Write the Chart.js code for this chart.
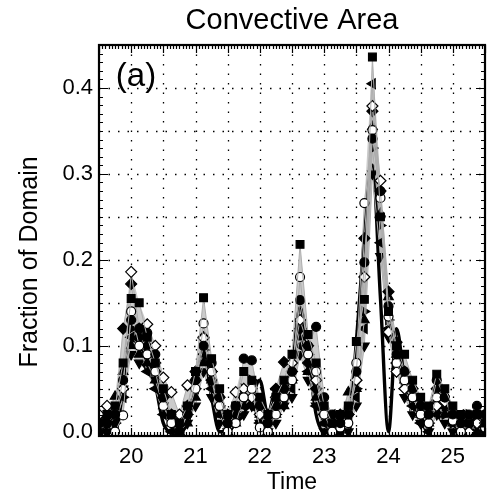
<!DOCTYPE html>
<html>
<head>
<meta charset="utf-8">
<script src="https://cdn.jsdelivr.net/npm/chart.js@4.4.1/dist/chart.umd.min.js"></script>
<style>
  html, body { margin: 0; padding: 0; background: #fff; }
  #wrap { width: 493px; height: 495px; }
</style>
</head>
<body>
<div id="wrap"><canvas id="chart"></canvas></div>
<script>
// time in days, 3-hourly samples
var times = [19.5, 19.625, 19.75, 19.875, 20, 20.125, 20.25, 20.375, 20.5, 20.625,
  20.75, 20.875, 21, 21.125, 21.25, 21.375, 21.5, 21.625, 21.75, 21.875,
  22, 22.125, 22.25, 22.375, 22.5, 22.625, 22.75, 22.875, 23, 23.125,
  23.25, 23.375, 23.5, 23.625, 23.75, 23.875, 24, 24.125, 24.25, 24.375,
  24.5, 24.625, 24.75, 24.875, 25, 25.125, 25.25, 25.375, 25.5];

// ensemble members (fraction of domain)
var runSquare = [0.01, 0.02, 0.03, 0.08, 0.155, 0.15, 0.11, 0.08, 0.05, 0.02,
  0.01, 0.03, 0.07, 0.156, 0.085, 0.05, 0.02, 0.03, 0.07, 0.06,
  0.04, 0.02, 0.04, 0.06, 0.09, 0.218, 0.113, 0.08, 0.03, 0.01,
  0.02, 0.03, 0.105, 0.154, 0.436, 0.25, 0.14, 0.10, 0.09, 0.06,
  0.04, 0.03, 0.067, 0.05, 0.03, 0.02, 0.01, 0.02, 0.01];
var runDot = [0.00, 0.01, 0.02, 0.06, 0.13, 0.12, 0.115, 0.09, 0.04, 0.02,
  0.0, 0.02, 0.06, 0.10, 0.08, 0.04, 0.01, 0.03, 0.085, 0.083,
  0.03, 0.01, 0.03, 0.05, 0.07, 0.153, 0.10, 0.122, 0.04, 0.02,
  0.01, 0.02, 0.07, 0.197, 0.341, 0.28, 0.146, 0.09, 0.07, 0.05,
  0.03, 0.02, 0.06, 0.04, 0.02, 0.01, 0.02, 0.03, 0.02];
var runRing = [0.005, 0.01, 0.0, 0.019, 0.14, 0.10, 0.09, 0.07, 0.03, 0.01,
  0.0, 0.02, 0.05, 0.126, 0.07, 0.03, 0.0, 0.01, 0.04, 0.05,
  0.005, 0.0, 0.02, 0.04, 0.06, 0.18, 0.09, 0.07, 0.02, 0.0,
  0.005, 0.01, 0.08, 0.266, 0.351, 0.272, 0.134, 0.08, 0.06, 0.04,
  0.02, 0.01, 0.04, 0.04, 0.013, 0.0, 0.01, 0.02, 0.005];
var runOpenDiamond = [0.02, 0.03, 0.02, 0.05, 0.186, 0.12, 0.125, 0.10, 0.063, 0.046,
  0.02, 0.054, 0.06, 0.109, 0.07, 0.04, 0.02, 0.046, 0.05, 0.04,
  0.02, 0.01, 0.04, 0.05, 0.08, 0.13, 0.10, 0.06, 0.02, 0.01,
  0.02, 0.02, 0.06, 0.18, 0.379, 0.292, 0.116, 0.07, 0.05, 0.04,
  0.02, 0.02, 0.03, 0.035, 0.02, 0.01, 0.0, 0.01, 0.01];
var runDiamond = [0.01, 0.015, 0.02, 0.12, 0.172, 0.11, 0.10, 0.08, 0.04, 0.02,
  0.01, 0.03, 0.07, 0.11, 0.06, 0.03, 0.01, 0.02, 0.04, 0.05,
  0.03, 0.02, 0.05, 0.081, 0.07, 0.12, 0.08, 0.05, 0.02, 0.01,
  0.01, 0.02, 0.06, 0.225, 0.373, 0.28, 0.163, 0.104, 0.07, 0.05,
  0.03, 0.02, 0.05, 0.03, 0.02, 0.01, 0.015, 0.01, 0.02];
var runTriUp = [0.005, 0.02, 0.041, 0.07, 0.10, 0.09, 0.08, 0.06, 0.03, 0.01,
  0.0, 0.01, 0.04, 0.08, 0.06, 0.02, 0.0, 0.01, 0.03, 0.04,
  0.02, 0.0, 0.02, 0.03, 0.06, 0.11, 0.07, 0.04, 0.01, 0.0,
  0.01, 0.046, 0.05, 0.13, 0.355, 0.254, 0.157, 0.09, 0.06, 0.04,
  0.02, 0.01, 0.03, 0.02, 0.01, 0.0, 0.01, 0.0, 0.01];
var runTriLeft = [0.0, 0.01, 0.01, 0.04, 0.11, 0.10, 0.07, 0.05, 0.02, 0.0,
  0.01, 0.02, 0.05, 0.09, 0.05, 0.02, 0.01, 0.02, 0.03, 0.03,
  0.01, 0.02, 0.03, 0.04, 0.05, 0.10, 0.07, 0.03, 0.01, 0.02,
  0.0, 0.01, 0.04, 0.12, 0.405, 0.22, 0.12, 0.08, 0.05, 0.03,
  0.01, 0.0, 0.02, 0.03, 0.01, 0.02, 0.0, 0.01, 0.0];
var runTriDown = [0.01, 0.0, 0.02, 0.05, 0.09, 0.08, 0.075, 0.06, 0.03, 0.01,
  0.0, 0.01, 0.03, 0.07, 0.04, 0.01, 0.0, 0.02, 0.02, 0.03,
  0.01, 0.0, 0.01, 0.03, 0.04, 0.09, 0.06, 0.03, 0.0, 0.01,
  0.0, 0.0, 0.03, 0.10, 0.30, 0.204, 0.11, 0.07, 0.04, 0.02,
  0.01, 0.0, 0.02, 0.01, 0.0, 0.01, 0.0, 0.0, 0.01];
var runTriRight = [0.02, 0.0, 0.01, 0.04, 0.12, 0.11, 0.09, 0.07, 0.04, 0.02,
  0.01, 0.02, 0.05, 0.095, 0.07, 0.03, 0.01, 0.02, 0.05, 0.06,
  0.02, 0.01, 0.02, 0.05, 0.06, 0.12, 0.09, 0.05, 0.02, 0.0,
  0.01, 0.02, 0.05, 0.14, 0.33, 0.24, 0.13, 0.085, 0.06, 0.03,
  0.02, 0.01, 0.04, 0.02, 0.01, 0.0, 0.02, 0.01, 0.0];

// observed (thick black line)
var observed = [0, 0, 0, 0.05, 0.11, 0.10, 0.085, 0.055, 0.01, 0,
  0, 0.01, 0.05, 0.095, 0.04, 0.0, 0.0, 0.01, 0.02, 0.04,
  0.06, 0.02, 0.05, 0.03, 0.07, 0.145, 0.09, 0.02, 0.0, 0.0,
  0.0, 0.0, 0.105, 0.225, 0.31, 0.155, 0.0, 0.12, 0.06, 0.03,
  0.02, 0.03, 0.04, 0.03, 0.02, 0.0, 0.0, 0.01, 0.0];

var xLabels = [20, 21, 22, 23, 24, 25];
var yLabels = [0.0, 0.1, 0.2, 0.3, 0.4];
var xGrid = [20, 20.5, 21, 21.5, 22, 22.5, 23, 23.5, 24, 24.5, 25];
var yGrid = [0.05, 0.1, 0.15, 0.2, 0.25, 0.3, 0.35, 0.4];

var members = [runSquare, runDot, runRing, runOpenDiamond, runDiamond,
  runTriUp, runTriLeft, runTriDown, runTriRight];
var looks = [
  { style: 'rect', r: 5.5, fill: '#000', rot: 0 },
  { style: 'circle', r: 4.5, fill: '#000', rot: 0 },
  { style: 'circle', r: 4.5, fill: '#fff', rot: 0 },
  { style: 'rectRot', r: 5.5, fill: '#fff', rot: 0 },
  { style: 'rectRot', r: 5.5, fill: '#000', rot: 0 },
  { style: 'triangle', r: 5.5, fill: '#000', rot: 0 },
  { style: 'triangle', r: 5.5, fill: '#000', rot: -90 },
  { style: 'triangle', r: 5.5, fill: '#000', rot: 180 },
  { style: 'triangle', r: 5.5, fill: '#000', rot: 90 }
];

function pts(vals) {
  return vals.map(function(v, i) { return { x: times[i], y: v }; });
}

// ensemble spread
var spreadHi = times.map(function(t, i) {
  return Math.max.apply(null, members.map(function(m) { return m[i]; }));
});
var spreadLo = times.map(function(t, i) {
  return Math.min.apply(null, members.map(function(m) { return m[i]; }));
});

var datasets = [];
members.forEach(function(m, k) {
  var l = looks[k];
  datasets.push({
    data: pts(m),
    borderColor: '#adadad',
    borderWidth: 1,
    pointStyle: l.style,
    pointRadius: l.r,
    pointRotation: l.rot,
    pointBackgroundColor: l.fill,
    pointBorderColor: '#000',
    pointBorderWidth: 1.2,
    order: 0
  });
});
datasets.push({
  data: pts(observed),
  borderColor: '#000',
  borderWidth: 3.4,
  pointRadius: 0,
  cubicInterpolationMode: 'monotone',
  order: 1
});
datasets.push({
  data: pts(spreadHi),
  borderWidth: 0,
  pointRadius: 0,
  backgroundColor: '#cbcbcb',
  fill: '+1',
  order: 3
});
datasets.push({
  data: pts(spreadLo),
  borderWidth: 0,
  pointRadius: 0,
  fill: false,
  order: 3
});

var FONT = '"Liberation Sans", Arial, Helvetica, sans-serif';

var framePlugin = {
  id: 'frame',
  beforeDatasetsDraw: function(chart) {
    var ctx = chart.ctx, a = chart.chartArea;
    var xs = chart.scales.x, ys = chart.scales.y;
    ctx.save();
    ctx.strokeStyle = '#000';
    ctx.lineWidth = 1.3;
    ctx.setLineDash([1.5, 8]);
    xGrid.forEach(function(v) {
      var px = Math.round(xs.getPixelForValue(v)) + 0.5;
      ctx.beginPath(); ctx.moveTo(px, a.top); ctx.lineTo(px, a.bottom); ctx.stroke();
    });
    yGrid.forEach(function(v) {
      var py = Math.round(ys.getPixelForValue(v)) + 0.5;
      ctx.beginPath(); ctx.moveTo(a.left, py); ctx.lineTo(a.right, py); ctx.stroke();
    });
    ctx.restore();
  },
  afterDraw: function(chart) {
    var ctx = chart.ctx, a = chart.chartArea;
    var xs = chart.scales.x, ys = chart.scales.y;
    ctx.save();
    ctx.strokeStyle = '#000';
    ctx.lineWidth = 1.2;
    // inward ticks, all four sides
    var i, v, px, py, len;
    for (i = 0; i <= 120; i++) {
      v = 19.5 + i * 0.05;
      px = Math.round(xs.getPixelForValue(v)) + 0.5;
      len = (i % 10 === 0) ? 8 : 4;
      ctx.beginPath();
      ctx.moveTo(px, a.bottom); ctx.lineTo(px, a.bottom - len);
      ctx.moveTo(px, a.top); ctx.lineTo(px, a.top + len);
      ctx.stroke();
    }
    for (i = 0; i <= 45; i++) {
      v = i * 0.01;
      py = Math.round(ys.getPixelForValue(v)) + 0.5;
      len = (i % 10 === 0) ? 9 : 4;
      ctx.beginPath();
      ctx.moveTo(a.left, py); ctx.lineTo(a.left + len, py);
      ctx.moveTo(a.right, py); ctx.lineTo(a.right - len, py);
      ctx.stroke();
    }
    ctx.lineWidth = 2.2;
    ctx.strokeRect(a.left, a.top, a.right - a.left, a.bottom - a.top);

    // texts
    ctx.fillStyle = '#000';
    ctx.textAlign = 'center';
    ctx.textBaseline = 'middle';
    ctx.font = '29px ' + FONT;
    ctx.fillText('Convective Area', 292, 21);
    ctx.font = '33px ' + FONT;
    ctx.fillText('(a)', 136, 77);
    ctx.font = '23px ' + FONT;
    ctx.fillText('Time', 292, 483);
    ctx.translate(30, 262);
    ctx.rotate(-Math.PI / 2);
    ctx.font = '25px ' + FONT;
    ctx.fillText('Fraction of Domain', 0, 0);
    ctx.restore();
  }
};

new Chart(document.getElementById('chart'), {
  type: 'line',
  data: { datasets: datasets },
  options: {
    responsive: true,
    maintainAspectRatio: false,
    animation: false,
    layout: { padding: { left: 0, right: 8, top: 45, bottom: 0 } },
    plugins: {
      legend: { display: false },
      tooltip: { enabled: false },
      title: { display: false }
    },
    scales: {
      x: {
        type: 'linear',
        min: 19.5,
        max: 25.5,
        afterBuildTicks: function(s) { s.ticks = xLabels.map(function(v) { return { value: v }; }); },
        afterFit: function(s) { s.height = 59; },
        grid: { display: false, drawTicks: false },
        border: { display: false },
        ticks: {
          autoSkip: false,
          maxRotation: 0,
          padding: 8,
          color: '#000',
          font: { family: FONT, size: 22 },
          callback: function(v) { return String(v); }
        }
      },
      y: {
        min: -0.005,
        max: 0.45,
        afterBuildTicks: function(s) { s.ticks = yLabels.map(function(v) { return { value: v }; }); },
        afterFit: function(s) { s.width = 99; },
        grid: { display: false, drawTicks: false },
        border: { display: false },
        ticks: {
          padding: 6,
          color: '#000',
          font: { family: FONT, size: 22 },
          callback: function(v) { return v.toFixed(1); }
        }
      }
    }
  },
  plugins: [framePlugin]
});
</script>
</body>
</html>
